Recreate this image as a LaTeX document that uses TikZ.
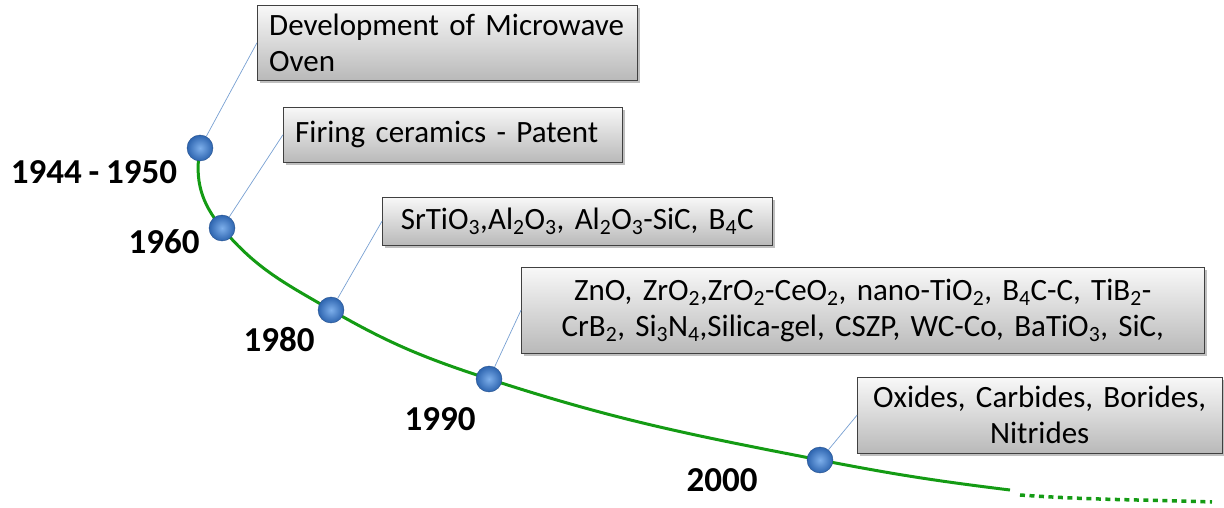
\documentclass[tikz,border=0pt]{standalone}
\usepackage{fontspec}
\setmainfont{Carlito}[WordSpace=0.85]
\usepackage{tikz}
\usetikzlibrary{positioning,shadows,backgrounds}
\definecolor{trendgreen}{RGB}{20,155,20}
\definecolor{balllight}{RGB}{125,175,235}
\definecolor{balldark}{RGB}{45,100,175}
\definecolor{leaderblue}{RGB}{120,160,210}
\definecolor{boxtop}{RGB}{248,248,248}
\definecolor{boxbot}{RGB}{185,185,185}
\tikzset{
  notebox/.style={rectangle,draw=black!75,top color=boxtop,bottom color=boxbot,
    drop shadow={shadow xshift=2.5pt,shadow yshift=-2.5pt,opacity=0.5},
    anchor=north west,inner xsep=12pt,inner ysep=0pt,font=\fontsize{31}{36}\selectfont},
  yeardot/.style={circle,inner color=balllight,outer color=balldark,draw=balldark!80!black,line width=0.4pt,
    minimum size=26pt,inner sep=0pt},
  yearlbl/.style={font=\fontsize{35}{40}\selectfont\bfseries},
  leader/.style={draw=leaderblue,line width=0.7pt},
  trend/.style={draw=trendgreen,line width=3pt}
}

\begin{document}
\begin{tikzpicture}[x=1pt,y=1pt]
  \useasboundingbox (0,0) rectangle (1224,-508);

  \node[notebox,text width=356pt,minimum height=75pt,align=left] (bMicro) at (257,-5) {Development of Microwave\\Oven};
  \node[notebox,text width=315pt,minimum height=55pt,align=left] (bPatent) at (283,-107) {Firing ceramics - Patent};
  \node[notebox,inner xsep=3pt,text width=384pt,minimum height=48pt,align=center] (bSr) at (382,-197)
    {SrTiO\textsubscript{3},Al\textsubscript{2}O\textsubscript{3}, Al\textsubscript{2}O\textsubscript{3}-SiC, B\textsubscript{4}C};
  \node[notebox,text width=659pt,minimum height=86pt,align=center] (bZnO) at (521,-267)
    {ZnO, ZrO\textsubscript{2},ZrO\textsubscript{2}-CeO\textsubscript{2}, nano-TiO\textsubscript{2}, B\textsubscript{4}C-C, TiB\textsubscript{2}-\\
     CrB\textsubscript{2}, Si\textsubscript{3}N\textsubscript{4},Silica-gel, CSZP, WC-Co, BaTiO\textsubscript{3}, SiC,};
  \node[notebox,text width=341pt,minimum height=76pt,align=center] (bOxide) at (857,-377) {Oxides, Carbides, Borides,\\Nitrides};

  \node[yeardot] (y1944) at (200,-148) {};
  \node[yeardot] (y1960) at (222,-228) {};
  \node[yeardot] (y1980) at (331,-310) {};
  \node[yeardot] (y1990) at (489,-379) {};
  \node[yeardot] (y2000) at (820,-460) {};

  \node[yearlbl] (l1944) at (94,-172) {1944 - 1950};
  \node[yearlbl] (l1960) at (164,-242) {1960};
  \node[yearlbl] (l1980) at (279,-340) {1980};
  \node[yearlbl] (l1990) at (440,-419) {1990};
  \node[yearlbl] (l2000) at (722,-480) {2000};

  \coordinate (tEnd) at (1010,-490);
  \coordinate (dStart) at (1020,-495);
  \coordinate (dEnd) at (1212,-502);

  \begin{pgfonlayer}{background}
    \draw[trend] (y1944.center) to[out=-100,in=130] (y1960.center) to[out=-50,in=150] (y1980.center)
      to[out=-30,in=162] (y1990.center) to[out=-18,in=169] (y2000.center) to[out=-11,in=173] (tEnd);
  \end{pgfonlayer}
  \draw[trend,line width=3.5pt,dash pattern=on 5pt off 4.5pt] (dStart) to[out=-4,in=178] (dEnd);

  \draw[leader] (y1944) -- (bMicro.west);
  \draw[leader] (y1960) -- (bPatent.west);
  \draw[leader] (y1980) -- (bSr.west);
  \draw[leader] (y1990) -- (bZnO.west);
  \draw[leader] (y2000) -- (bOxide.west);
\end{tikzpicture}
\end{document}
